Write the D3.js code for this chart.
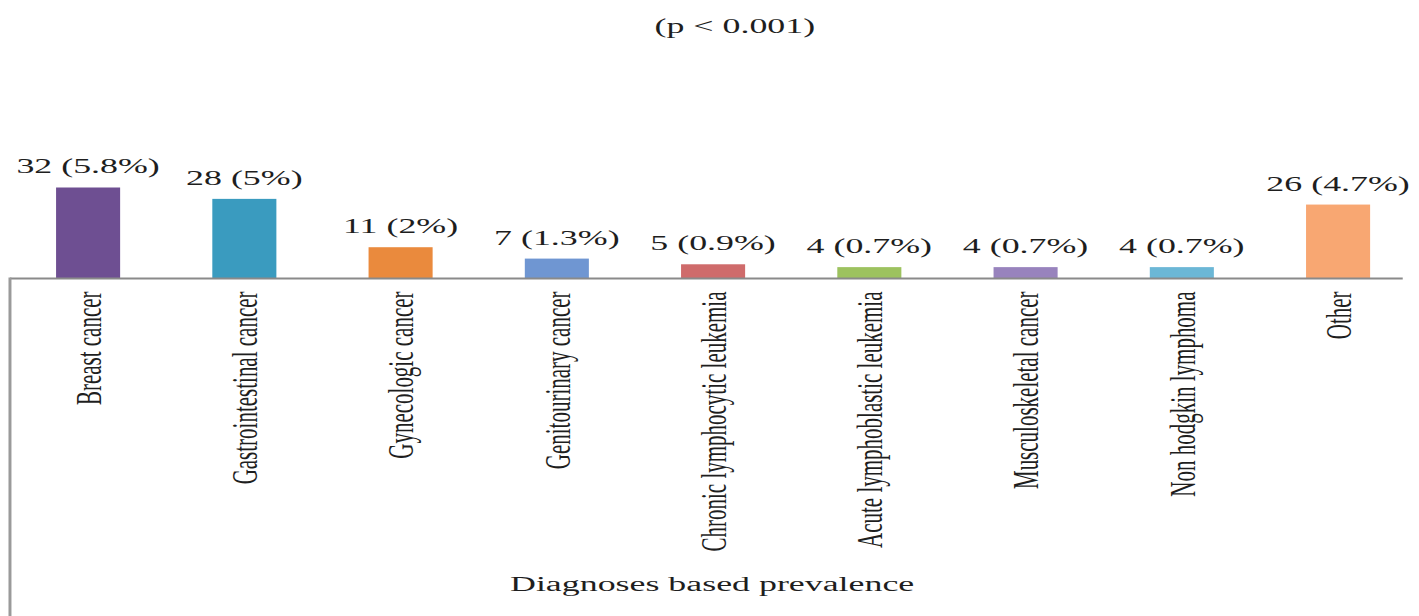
<!DOCTYPE html>
<html>
<head>
<meta charset="utf-8">
<script src="https://cdn.jsdelivr.net/npm/d3@7/dist/d3.min.js"></script>
<style>
  html, body { margin: 0; padding: 0; background: #fff; }
  svg { display: block; }
  text { font-family: "Liberation Serif", "Times New Roman", serif; fill: #1e1e1e; }
</style>
</head>
<body>
<svg id="chart"></svg>
<script>
// Diagnoses and their patient counts / shares
const categories = [
  "Breast cancer",
  "Gastrointestinal cancer",
  "Gynecologic cancer",
  "Genitourinary cancer",
  "Chronic lymphocytic leukemia",
  "Acute lymphoblastic leukemia",
  "Musculoskeletal cancer",
  "Non hodgkin lymphoma",
  "Other"
];
const counts = [32, 28, 11, 7, 5, 4, 4, 4, 26];
const percents = ["5.8%", "5%", "2%", "1.3%", "0.9%", "0.7%", "0.7%", "0.7%", "4.7%"];
const barColors = ["#6e4f92", "#3a9bbf", "#ea8a3d", "#6f96d2", "#cf6b6b",
                   "#9dc25f", "#9883bd", "#6bb7d6", "#f8a772"];
const titleText = "(p < 0.001)";
const axisTitle = "Diagnoses based prevalence";

// The drawing is laid out in a narrower coordinate space and stretched
// horizontally to fill the page.
const W = 1419, H = 616;
const VW = 811;
const svg = d3.select("#chart")
  .attr("width", W).attr("height", H)
  .attr("viewBox", `0 0 ${VW} ${H}`)
  .attr("preserveAspectRatio", "none");

const left = 5.7, baseline = 278.5;

const x = d3.scaleBand()
  .domain(categories)
  .range([left, left + 9 * 89.3])
  .paddingInner(0.59)
  .paddingOuter(0.295);

const y = d3.scaleLinear()
  .domain([0, 32])
  .range([baseline, 187.5]);

const data = categories.map((c, i) => ({ c, v: counts[i], p: percents[i], col: barColors[i] }));

// Title
svg.append("text")
  .attr("x", 420).attr("y", 33)
  .attr("text-anchor", "middle")
  .attr("font-size", 20.5)
  .text(titleText);

// Bars
svg.append("g").selectAll("rect").data(data).join("rect")
  .attr("x", d => x(d.c))
  .attr("width", x.bandwidth())
  .attr("y", d => y(d.v))
  .attr("height", d => y(0) - y(d.v))
  .attr("fill", d => d.col);

// Value labels
svg.append("g").selectAll("text").data(data).join("text")
  .attr("x", d => x(d.c) + x.bandwidth() / 2)
  .attr("y", d => y(d.v) - 14)
  .attr("text-anchor", "middle")
  .attr("font-size", 20.5)
  .text(d => `${d.v} (${d.p})`);

// Category axis with rotated labels
const xAxis = svg.append("g")
  .attr("transform", `translate(0,${baseline})`)
  .call(d3.axisBottom(x).tickSize(0).tickSizeOuter(0));
xAxis.select(".domain").remove();
xAxis.selectAll(".tick text")
  .attr("transform", "rotate(-90)")
  .attr("text-anchor", "end")
  .attr("x", -13)
  .attr("y", 0)
  .attr("dy", "0.35em")
  .attr("font-size", 21)
  .attr("font-family", "Liberation Serif, Times New Roman, serif")
  .attr("fill", "#1e1e1e");

// Axis lines
svg.append("line")
  .attr("x1", left).attr("x2", 801.7)
  .attr("y1", baseline).attr("y2", baseline)
  .attr("stroke", "#8a8a8a").attr("stroke-width", 2);
svg.append("line")
  .attr("x1", left).attr("x2", left)
  .attr("y1", baseline - 1).attr("y2", H)
  .attr("stroke", "#9a9a9a").attr("stroke-width", 1.7);

// Axis title
svg.append("text")
  .attr("x", 407).attr("y", 591)
  .attr("text-anchor", "middle")
  .attr("font-size", 20.5)
  .text(axisTitle);
</script>
</body>
</html>
